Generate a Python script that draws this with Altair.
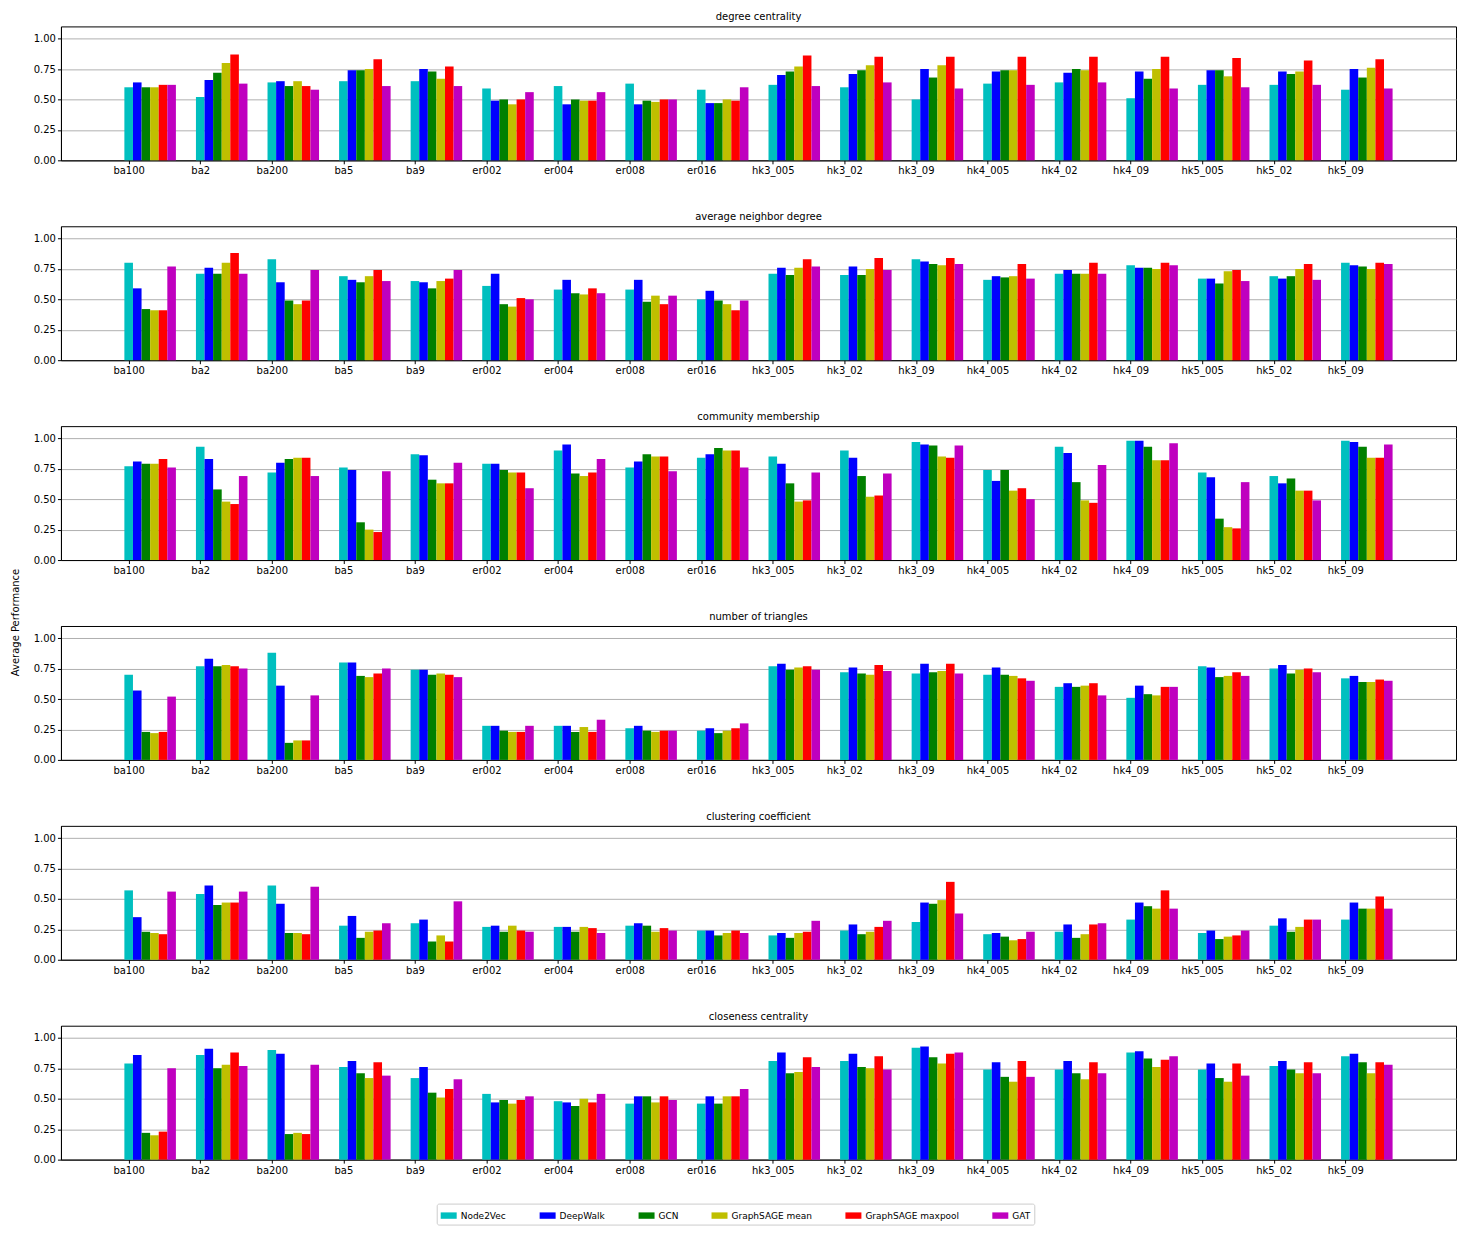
import altair as alt
import pandas as pd

GRAPHS = ["ba100", "ba2", "ba200", "ba5", "ba9", "er002", "er004", "er008", "er016",
          "hk3_005", "hk3_02", "hk3_09", "hk4_005", "hk4_02", "hk4_09", "hk5_005", "hk5_02", "hk5_09"]
MODELS = ["Node2Vec", "DeepWalk", "GCN", "GraphSAGE mean", "GraphSAGE maxpool", "GAT"]
COLORS = ["#00bfbf", "#0000ff", "#008000", "#bfbf00", "#ff0000", "#bf00bf"]
METRICS = ["degree centrality", "average neighbor degree", "community membership",
           "number of triangles", "clustering coefficient", "closeness centrality"]

degree = {
    "Node2Vec":          [.60, .52, .64, .65, .65, .59, .61, .63, .58, .62, .60, .50, .63, .64, .51, .62, .62, .58],
    "DeepWalk":          [.64, .66, .65, .74, .75, .49, .46, .46, .47, .70, .71, .75, .73, .72, .73, .74, .73, .75],
    "GCN":               [.60, .72, .61, .74, .73, .50, .50, .49, .47, .73, .74, .68, .74, .75, .67, .74, .71, .68],
    "GraphSAGE mean":    [.60, .80, .65, .75, .67, .46, .49, .48, .50, .77, .78, .78, .74, .74, .75, .69, .73, .76],
    "GraphSAGE maxpool": [.62, .87, .61, .83, .77, .50, .49, .50, .49, .86, .85, .85, .85, .85, .85, .84, .82, .83],
    "GAT":               [.62, .63, .58, .61, .61, .56, .56, .50, .60, .61, .64, .59, .62, .64, .59, .60, .62, .59],
}
neighbor = {
    "Node2Vec":          [.80, .71, .83, .69, .65, .61, .58, .58, .50, .71, .70, .83, .66, .71, .78, .67, .69, .80],
    "DeepWalk":          [.59, .76, .64, .66, .64, .71, .66, .66, .57, .76, .77, .81, .69, .74, .76, .67, .67, .78],
    "GCN":               [.42, .71, .49, .64, .59, .46, .55, .48, .49, .70, .70, .79, .68, .71, .76, .63, .69, .77],
    "GraphSAGE mean":    [.41, .80, .46, .69, .65, .44, .54, .53, .46, .76, .75, .78, .69, .71, .75, .73, .75, .75],
    "GraphSAGE maxpool": [.41, .88, .49, .74, .67, .51, .59, .46, .41, .83, .84, .84, .79, .80, .80, .74, .79, .80],
    "GAT":               [.77, .71, .74, .65, .74, .50, .55, .53, .49, .77, .74, .79, .67, .71, .78, .65, .66, .79],
}
community = {
    "Node2Vec":          [.77, .93, .72, .76, .87, .79, .90, .76, .84, .85, .90, .97, .74, .93, .98, .72, .69, .98],
    "DeepWalk":          [.81, .83, .80, .74, .86, .79, .95, .81, .87, .79, .84, .95, .65, .88, .98, .68, .63, .97],
    "GCN":               [.79, .58, .83, .31, .66, .74, .71, .87, .92, .63, .69, .94, .74, .64, .93, .34, .67, .93],
    "GraphSAGE mean":    [.79, .48, .84, .25, .63, .72, .69, .85, .90, .48, .52, .85, .57, .49, .82, .27, .57, .84],
    "GraphSAGE maxpool": [.83, .46, .84, .23, .63, .72, .72, .85, .90, .49, .53, .84, .59, .47, .82, .26, .57, .84],
    "GAT":               [.76, .69, .69, .73, .80, .59, .83, .73, .76, .72, .71, .94, .50, .78, .96, .64, .49, .95],
}
triangles = {
    "Node2Vec":          [.70, .77, .88, .80, .74, .28, .28, .26, .24, .77, .72, .71, .70, .60, .51, .77, .75, .67],
    "DeepWalk":          [.57, .83, .61, .80, .74, .28, .28, .28, .26, .79, .76, .79, .76, .63, .61, .76, .78, .69],
    "GCN":               [.23, .77, .14, .69, .70, .24, .23, .24, .22, .74, .71, .72, .70, .60, .54, .68, .71, .64],
    "GraphSAGE mean":    [.22, .78, .16, .68, .71, .23, .27, .23, .24, .76, .70, .73, .69, .61, .53, .69, .74, .64],
    "GraphSAGE maxpool": [.23, .77, .16, .71, .70, .23, .23, .24, .26, .77, .78, .79, .67, .63, .60, .72, .75, .66],
    "GAT":               [.52, .75, .53, .75, .68, .28, .33, .24, .30, .74, .73, .71, .65, .53, .60, .69, .72, .65],
}
clustering = {
    "Node2Vec":          [.57, .54, .61, .28, .30, .27, .27, .28, .24, .20, .24, .31, .21, .23, .33, .22, .28, .33],
    "DeepWalk":          [.35, .61, .46, .36, .33, .28, .27, .30, .24, .22, .29, .47, .22, .29, .47, .24, .34, .47],
    "GCN":               [.23, .45, .22, .18, .15, .23, .23, .28, .20, .18, .21, .46, .19, .18, .44, .17, .23, .42],
    "GraphSAGE mean":    [.22, .47, .22, .23, .20, .28, .27, .23, .22, .22, .23, .49, .16, .21, .42, .19, .27, .42],
    "GraphSAGE maxpool": [.21, .47, .21, .24, .15, .24, .26, .26, .24, .23, .27, .64, .17, .29, .57, .20, .33, .52],
    "GAT":               [.56, .56, .60, .30, .48, .23, .22, .24, .22, .32, .32, .38, .23, .30, .42, .24, .33, .42],
}
closeness = {
    "Node2Vec":          [.79, .86, .90, .76, .67, .54, .48, .46, .46, .81, .81, .92, .74, .74, .88, .74, .77, .85],
    "DeepWalk":          [.86, .91, .87, .81, .76, .47, .47, .52, .52, .88, .87, .93, .80, .81, .89, .79, .81, .87],
    "GCN":               [.22, .75, .21, .71, .55, .49, .44, .52, .46, .71, .76, .84, .68, .71, .83, .67, .74, .80],
    "GraphSAGE mean":    [.20, .78, .22, .67, .51, .46, .50, .47, .52, .72, .75, .79, .64, .66, .76, .64, .71, .71],
    "GraphSAGE maxpool": [.23, .88, .21, .80, .58, .49, .47, .52, .52, .84, .85, .87, .81, .80, .82, .79, .80, .80],
    "GAT":               [.75, .77, .78, .69, .66, .52, .54, .49, .58, .76, .74, .88, .68, .71, .85, .69, .71, .78],
}
TABLES = [degree, neighbor, community, triangles, clustering, closeness]

BAR_W = 0.12

rows = []
for metric, table in zip(METRICS, TABLES):
    for mi, m in enumerate(MODELS):
        for gi, g in enumerate(GRAPHS):
            rows.append({"metric": metric, "model": m, "mi": mi, "gi": gi, "value": table[m][gi]})
df = pd.DataFrame(rows)

label_expr = "[" + ",".join("'%s'" % g for g in GRAPHS) + "][datum.value]"
FONT = "DejaVu Sans"
RECT = "M-1,-0.4L1,-0.4L1,0.4L-1,0.4Z"


def panel(i, metric):
    y_title = "Average Performance" if i == 2 else None
    y_axis_kwargs = dict(values=[0, 0.25, 0.5, 0.75, 1.0], format=".2f", grid=True,
                         gridColor="#b0b0b0", gridWidth=1, tickSize=3.5, labelPadding=2,
                         labelFontSize=10, domainColor="black", tickColor="black",
                         labelColor="black", title=y_title)
    if y_title:
        y_axis_kwargs.update(titleX=-40, titleY=196, titleAngle=-90, titleAlign="center",
                             titleBaseline="bottom", titleFontSize=10, titleFontWeight="normal",
                             titleColor="black")
    return (
        alt.Chart(df)
        .transform_filter(alt.datum.metric == metric)
        .transform_calculate(
            x0="datum.gi + datum.mi * %f - %f" % (BAR_W, BAR_W / 2),
            x1="datum.gi + datum.mi * %f + %f" % (BAR_W, BAR_W / 2),
        )
        .mark_bar()
        .encode(
            x=alt.X("x0:Q",
                    scale=alt.Scale(domain=[-0.946, 18.546], nice=False, zero=False),
                    axis=alt.Axis(values=list(range(len(GRAPHS))), labelExpr=label_expr,
                                  grid=False, title=None, tickSize=3.5, labelPadding=2,
                                  labelFontSize=10, domainColor="black", tickColor="black",
                                  labelColor="black", labelFlush=False)),
            x2="x1:Q",
            y=alt.Y("value:Q", scale=alt.Scale(domain=[0, 1.1], nice=False),
                    axis=alt.Axis(**y_axis_kwargs)),
            y2=alt.datum(0),
            color=alt.Color("model:N", scale=alt.Scale(domain=MODELS, range=COLORS),
                            legend=alt.Legend(title=None, orient="none", direction="horizontal",
                                              columns=6, legendX=376, legendY=1178,
                                              symbolType=RECT, symbolSize=256,
                                              symbolStrokeWidth=0, labelFontSize=9,
                                              columnPadding=33, padding=4,
                                              strokeColor="#cccccc", fillColor="white",
                                              cornerRadius=2, labelColor="black")),
        )
        .properties(width=1396, height=134,
                    title=alt.TitleParams(metric, fontSize=10, fontWeight="normal",
                                          offset=4, color="black", font=FONT))
    )


chart = (
    alt.vconcat(*[panel(i, m) for i, m in enumerate(METRICS)], spacing=66, bounds="flush",
                padding={"left": 2, "top": 3, "right": 0, "bottom": 0})
    .configure(font=FONT)
    .configure_view(stroke="black", strokeWidth=1)
    .configure_axis(labelFont=FONT, titleFont=FONT)
    .configure_legend(labelFont=FONT)
)

chart.save("out.html", embed_options={"renderer": "svg", "actions": False})
